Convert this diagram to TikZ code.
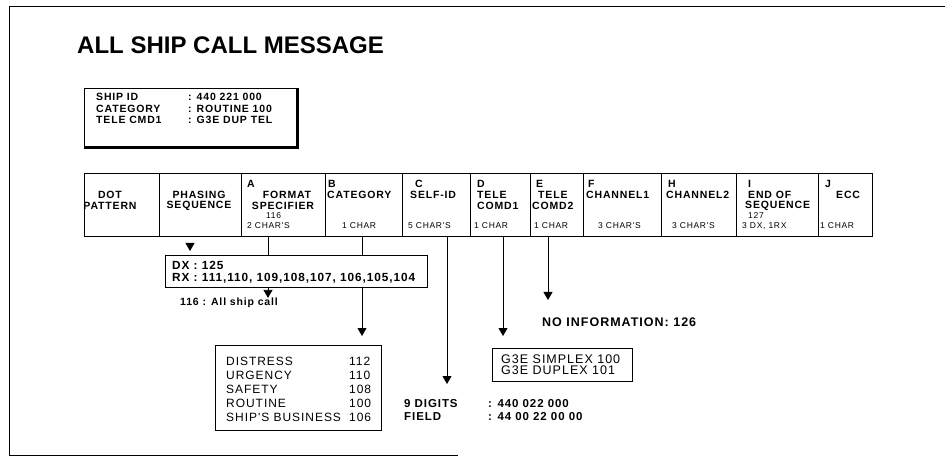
\documentclass[tikz,border=0pt]{standalone}
\usepackage{fontspec}
\setmainfont{Liberation Sans}
\newfontfamily\scanfont[LetterSpace=8]{Liberation Sans}
\usetikzlibrary{arrows.meta}

\begin{document}
\begin{tikzpicture}[x=1pt, y=-1pt,
    rule/.style={line width=0.8pt},
    box/.style={draw, line width=0.9pt, inner sep=0pt, anchor=north west},
    head/.style={font=\scanfont\bfseries\fontsize{10.5}{12}\selectfont, inner sep=0pt, anchor=west},
    note/.style={font=\scanfont\fontsize{8.5}{10}\selectfont, inner sep=0pt, anchor=west},
    plain/.style={font=\scanfont\fontsize{12}{14}\selectfont, inner sep=0pt, anchor=west},
    call/.style={font=\scanfont\bfseries\fontsize{11.5}{13}\selectfont, inner sep=0pt, anchor=west},
    link/.style={line width=0.8pt},
    feed/.style={line width=0.8pt, -{Triangle[length=8pt, width=9pt]}}]
  \useasboundingbox (0,0) rectangle (945,462);
  % page frame
  \draw[rule] (945,6) -- (9,6) -- (9,455) -- (458,455);
  % title
  \node[font=\bfseries\fontsize{24}{28}\selectfont, inner sep=0pt, anchor=base west] (title) at (77,54) {ALL SHIP CALL MESSAGE};
  % the call to be sent
  \node[box, minimum width=212, minimum height=58] (info) at (84,88) {};
  \draw[line width=2pt] ([xshift=1pt]info.north east) -- ([xshift=1pt, yshift=-1pt]info.south east) -- ([yshift=-1pt]info.south west);
  \node[head] (shipid) at (96,97) {SHIP ID};
  \node[head] (catg) at (96,108.5) {CATEGORY};
  \node[head] (telecmd) at (96,120) {TELE CMD1};
  \node[head] (shipidval) at (188,97) {: 440 221 000};
  \node[head] (catgval) at (188,108.5) {: ROUTINE 100};
  \node[head] (telecmdval) at (188,120) {: G3E DUP TEL};
  % the fields of the message
  \draw[rule] (84,173) rectangle (872,236);
  \foreach \x in {159,241,325,402,470,530,583,661,736,818}
    \draw[rule] (\x,173) -- (\x,236);
  \foreach \x/\t in {247/A, 328/B, 415/C, 477/D, 536/E, 588/F, 668/H, 748/I, 825/J}
    \node[head] (letter\t) at (\x,184) {\t};
  \node[head, anchor=center] (dot) at (110,195) {DOT};
  \node[head, anchor=center] (pattern) at (110,206) {PATTERN};
  \node[head, anchor=center] (phasing) at (199,195) {PHASING};
  \node[head, anchor=center] (phseq) at (199,206) {SEQUENCE};
  \node[head, anchor=center] (format) at (287,195) {FORMAT};
  \node[head, anchor=center] (specifier) at (283,206) {SPECIFIER};
  \node[head] (category) at (327,195) {CATEGORY};
  \node[head] (selfid) at (410,195) {SELF-ID};
  \node[head] (tele1) at (477,195) {TELE};
  \node[head] (comd1) at (477,206) {COMD1};
  \node[head] (tele2) at (538,195) {TELE};
  \node[head] (comd2) at (532,206) {COMD2};
  \node[head] (channel1) at (586,195) {CHANNEL1};
  \node[head] (channel2) at (666,195) {CHANNEL2};
  \node[head] (endof) at (748,195) {END OF};
  \node[head] (endseq) at (745,206) {SEQUENCE};
  \node[head] (ecc) at (836,195) {ECC};
  \node[note] (fmtcode) at (266,216) {116};
  \node[note] (endcode) at (748,216) {127};
  \foreach \x/\t/\n in {247/2 CHAR'S/a, 342/1 CHAR/b, 408/5 CHAR'S/c, 474/1 CHAR/d,
      534/1 CHAR/e, 598/3 CHAR'S/f, 672/3 CHAR'S/h, 742/{3 DX, 1RX}/i, 820/1 CHAR/j}
    \node[note] (size\n) at (\x,226) {\t};
  % points under the fields
  \coordinate (mark) at (190,243);
  \coordinate (marktip) at (190,251);
  \coordinate (Abot) at (268,236);
  \coordinate (Bbot) at (362,236);
  \coordinate (Cbot) at (447,236);
  \coordinate (Dbot) at (503,236);
  \coordinate (Ebot) at (548,236);
  \coordinate (Btip) at (362,336);
  \coordinate (Ctip) at (447,384);
  \coordinate (Dtip) at (503,336);
  \coordinate (Etip) at (548,300);
  % format specifier codes
  \node[box, minimum width=262, minimum height=32] (dx) at (165,255) {};
  \node[call, font=\scanfont\bfseries\fontsize{11.8}{13}\selectfont] (dxline) at (172,265) {DX : 125};
  \node[call, font=\scanfont\bfseries\fontsize{11.8}{13}\selectfont] (rxline) at (172,278) {RX : 111,110, 109,108,107, 106,105,104};
  \node[call, font=\scanfont\bfseries\fontsize{10.5}{13}\selectfont] (allcall) at (180,303) {116 : All ship call};
  % categories
  \node[box, minimum width=166, minimum height=85] (prio) at (215,345) {};
  \foreach \y/\t/\n/\k in {361/DISTRESS/112/a, 375/URGENCY/110/b, 389/SAFETY/108/c,
      403/ROUTINE/100/d, 417/SHIP'S BUSINESS/106/e} {
    \node[plain] (prio\k) at (226,\y) {\t};
    \node[plain] (code\k) at (349,\y) {\n};
  }
  % self-id
  \node[call] (digits) at (404,404) {9 DIGITS};
  \node[call] (digitsval) at (488,404) {: 440 022 000};
  \node[call] (field) at (404,417) {FIELD};
  \node[call] (fieldval) at (488,417) {: 44 00 22 00 00};
  % telecommands
  \node[box, minimum width=140, minimum height=33] (g3e) at (492,348) {};
  \node[plain, font=\scanfont\fontsize{12.5}{14}\selectfont] (simplex) at (501,359) {G3E SIMPLEX 100};
  \node[plain, font=\scanfont\fontsize{12.5}{14}\selectfont] (duplex) at (501,370) {G3E DUPLEX 101};
  \node[call, font=\scanfont\bfseries\fontsize{12.5}{14}\selectfont] (noinfo) at (542,322) {NO INFORMATION: 126};
  % arrows
  \draw[feed] (mark) -- (marktip);
  \draw[link] (Abot) -- (Abot |- dx.north);
  \draw[feed] (Abot |- dx.south) -- (Abot |- allcall.north);
  \draw[link] (Bbot) -- (Bbot |- dx.north);
  \draw[feed] (Bbot |- dx.south) -- (Btip);
  \draw[feed] (Cbot) -- (Ctip);
  \draw[feed] (Dbot) -- (Dtip);
  \draw[feed] (Ebot) -- (Etip);
\end{tikzpicture}
\end{document}
